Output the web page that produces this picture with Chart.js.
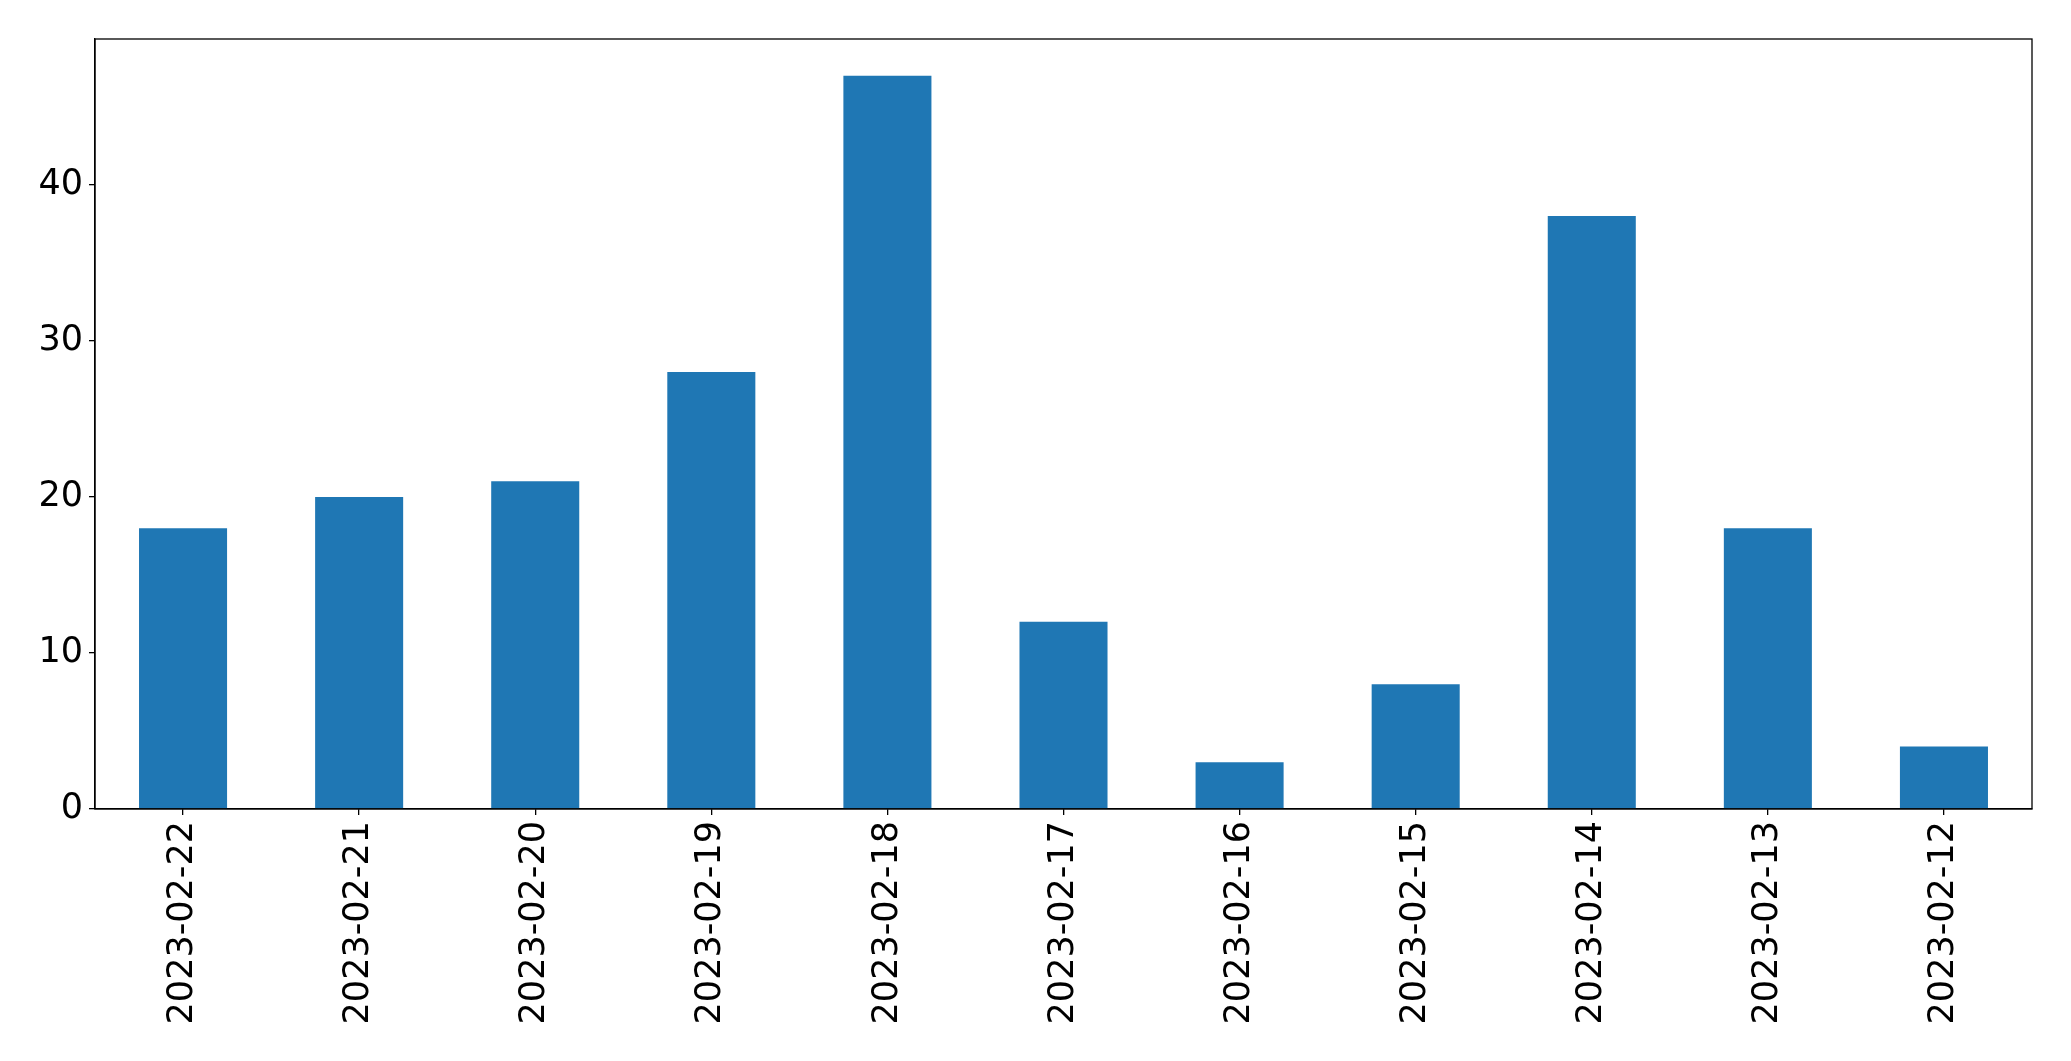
<!DOCTYPE html>
<html>
<head>
<meta charset="utf-8">
<script src="https://cdn.jsdelivr.net/npm/chart.js@4/dist/chart.umd.min.js"></script>
<style>
html,body{margin:0;padding:0;background:#fff;}
#wrap{width:2071px;height:1061px;}
</style>
</head>
<body>
<div id="wrap"><canvas id="c" width="2071" height="1061"></canvas></div>
<script>
const categories = ["2023-02-22","2023-02-21","2023-02-20","2023-02-19","2023-02-18","2023-02-17","2023-02-16","2023-02-15","2023-02-14","2023-02-13","2023-02-12"];
const counts = [18, 20, 21, 28, 47, 12, 3, 8, 38, 18, 4];
const yTicks = [0, 10, 20, 30, 40];

const frame = {
  id: 'frame',
  afterDraw(chart) {
    const a = chart.chartArea, ctx = chart.ctx;
    ctx.save();
    ctx.strokeStyle = '#000';
    ctx.lineWidth = 1.3;
    ctx.strokeRect(a.left, a.top, a.right - a.left, a.bottom - a.top);
    ctx.restore();
  }
};

new Chart(document.getElementById('c'), {
  type: 'bar',
  data: {
    labels: categories,
    datasets: [{ data: counts, backgroundColor: '#1f77b4', borderWidth: 0,
      categoryPercentage: 1.0, barPercentage: 0.5 }]
  },
  options: {
    responsive: false,
    animation: false,
    layout: { padding: { left: 0, top: 39, right: 39, bottom: 0 } },
    plugins: { legend: { display: false }, tooltip: { enabled: false } },
    scales: {
      x: {
        offset: true,
        grid: { display: true, offset: false, drawOnChartArea: false, drawTicks: true, tickLength: 6, color: '#000', lineWidth: 1.3 },
        border: { display: true, color: '#000', width: 1.3 },
        ticks: { color: '#000', font: { family: 'DejaVu Sans', size: 35 }, minRotation: 90, maxRotation: 90, padding: 6, autoSkip: false },
        afterFit(s) { s.height = 1061 - 809; }
      },
      y: {
        min: 0, max: 49.35,
        afterBuildTicks(s) { s.ticks = yTicks.map(v => ({ value: v })); },
        grid: { display: true, drawOnChartArea: false, drawTicks: true, tickLength: 6, color: '#000', lineWidth: 1.3 },
        border: { display: true, color: '#000', width: 1.3 },
        ticks: { color: '#000', font: { family: 'DejaVu Sans', size: 35 }, padding: 6 },
        afterFit(s) { s.width = 95; }
      }
    }
  },
  plugins: [frame]
});
</script>
</body>
</html>
